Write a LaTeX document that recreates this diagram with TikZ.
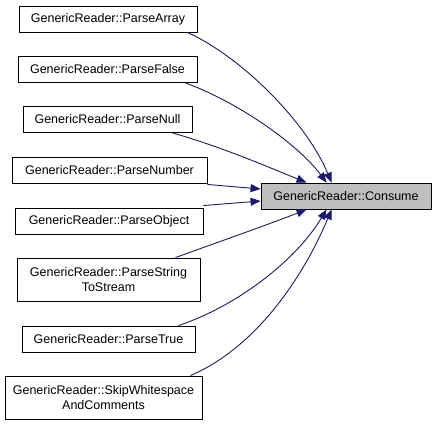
\documentclass[tikz,border=0pt]{standalone}
\usepackage{fontspec}
\setmainfont{Liberation Sans}
\usetikzlibrary{arrows.meta}
\definecolor{edgeblue}{HTML}{191970}
\definecolor{boxgray}{HTML}{BFBFBF}
\begin{document}
\begin{tikzpicture}[x=1pt,y=-1pt,
  fn/.style={draw=black,line width=0.9pt,fill=white,inner sep=0pt,align=center,font=\fontsize{12.5}{15}\selectfont},
  edge/.style={draw=edgeblue,line width=0.9pt,-{Triangle[length=10pt,width=8pt]}}]
\useasboundingbox (0,0) rectangle (436,423);
\node[fn,minimum width=178,minimum height=26] (a) at (108,19) {GenericReader::ParseArray};
\node[fn,minimum width=179,minimum height=26] (b) at (107.5,69.5) {GenericReader::ParseFalse};
\node[fn,minimum width=169,minimum height=26] (c) at (107.5,119.5) {GenericReader::ParseNull};
\node[fn,minimum width=195,minimum height=26] (d) at (109.5,170) {GenericReader::ParseNumber};
\node[fn,minimum width=188,minimum height=26] (e) at (109,221) {GenericReader::ParseObject};
\node[fn,minimum width=183,minimum height=43] (f) at (108.5,279.5) {GenericReader::ParseString\\ToStream};
\node[fn,minimum width=173,minimum height=26] (g) at (108.5,339) {GenericReader::ParseTrue};
\node[fn,minimum width=197,minimum height=43] (h) at (103.5,397.5) {GenericReader::SkipWhitespace\\AndComments};
\node[fn,fill=boxgray,minimum width=170,minimum height=26] (k) at (346,196) {GenericReader::Consume};
\draw[edge] ([xshift=-10]a.south east) .. controls +(55,25) and +(-25,-60) .. ([xshift=71]k.north west);
\draw[edge] ([xshift=-12]b.south east) .. controls +(50,18) and +(-30,-40) .. ([xshift=66]k.north west);
\draw[edge] ([xshift=-20]c.south east) .. controls +(50,14) and +(-30,-12) .. ([xshift=46]k.north west);
\draw[edge] ([yshift=-1]d.south east) -- ([yshift=7]k.west);
\draw[edge] ([yshift=2]e.north east) -- ([yshift=-5]k.west);
\draw[edge] ([xshift=-25]f.north east) .. controls +(50,-18) and +(-30,12) .. ([xshift=46]k.south west);
\draw[edge] ([xshift=-17]g.north east) .. controls +(60,-20) and +(-30,50) .. ([xshift=66]k.south west);
\draw[edge] ([xshift=-12]h.north east) .. controls +(70,-30) and +(-25,60) .. ([xshift=71]k.south west);
\end{tikzpicture}
\end{document}
